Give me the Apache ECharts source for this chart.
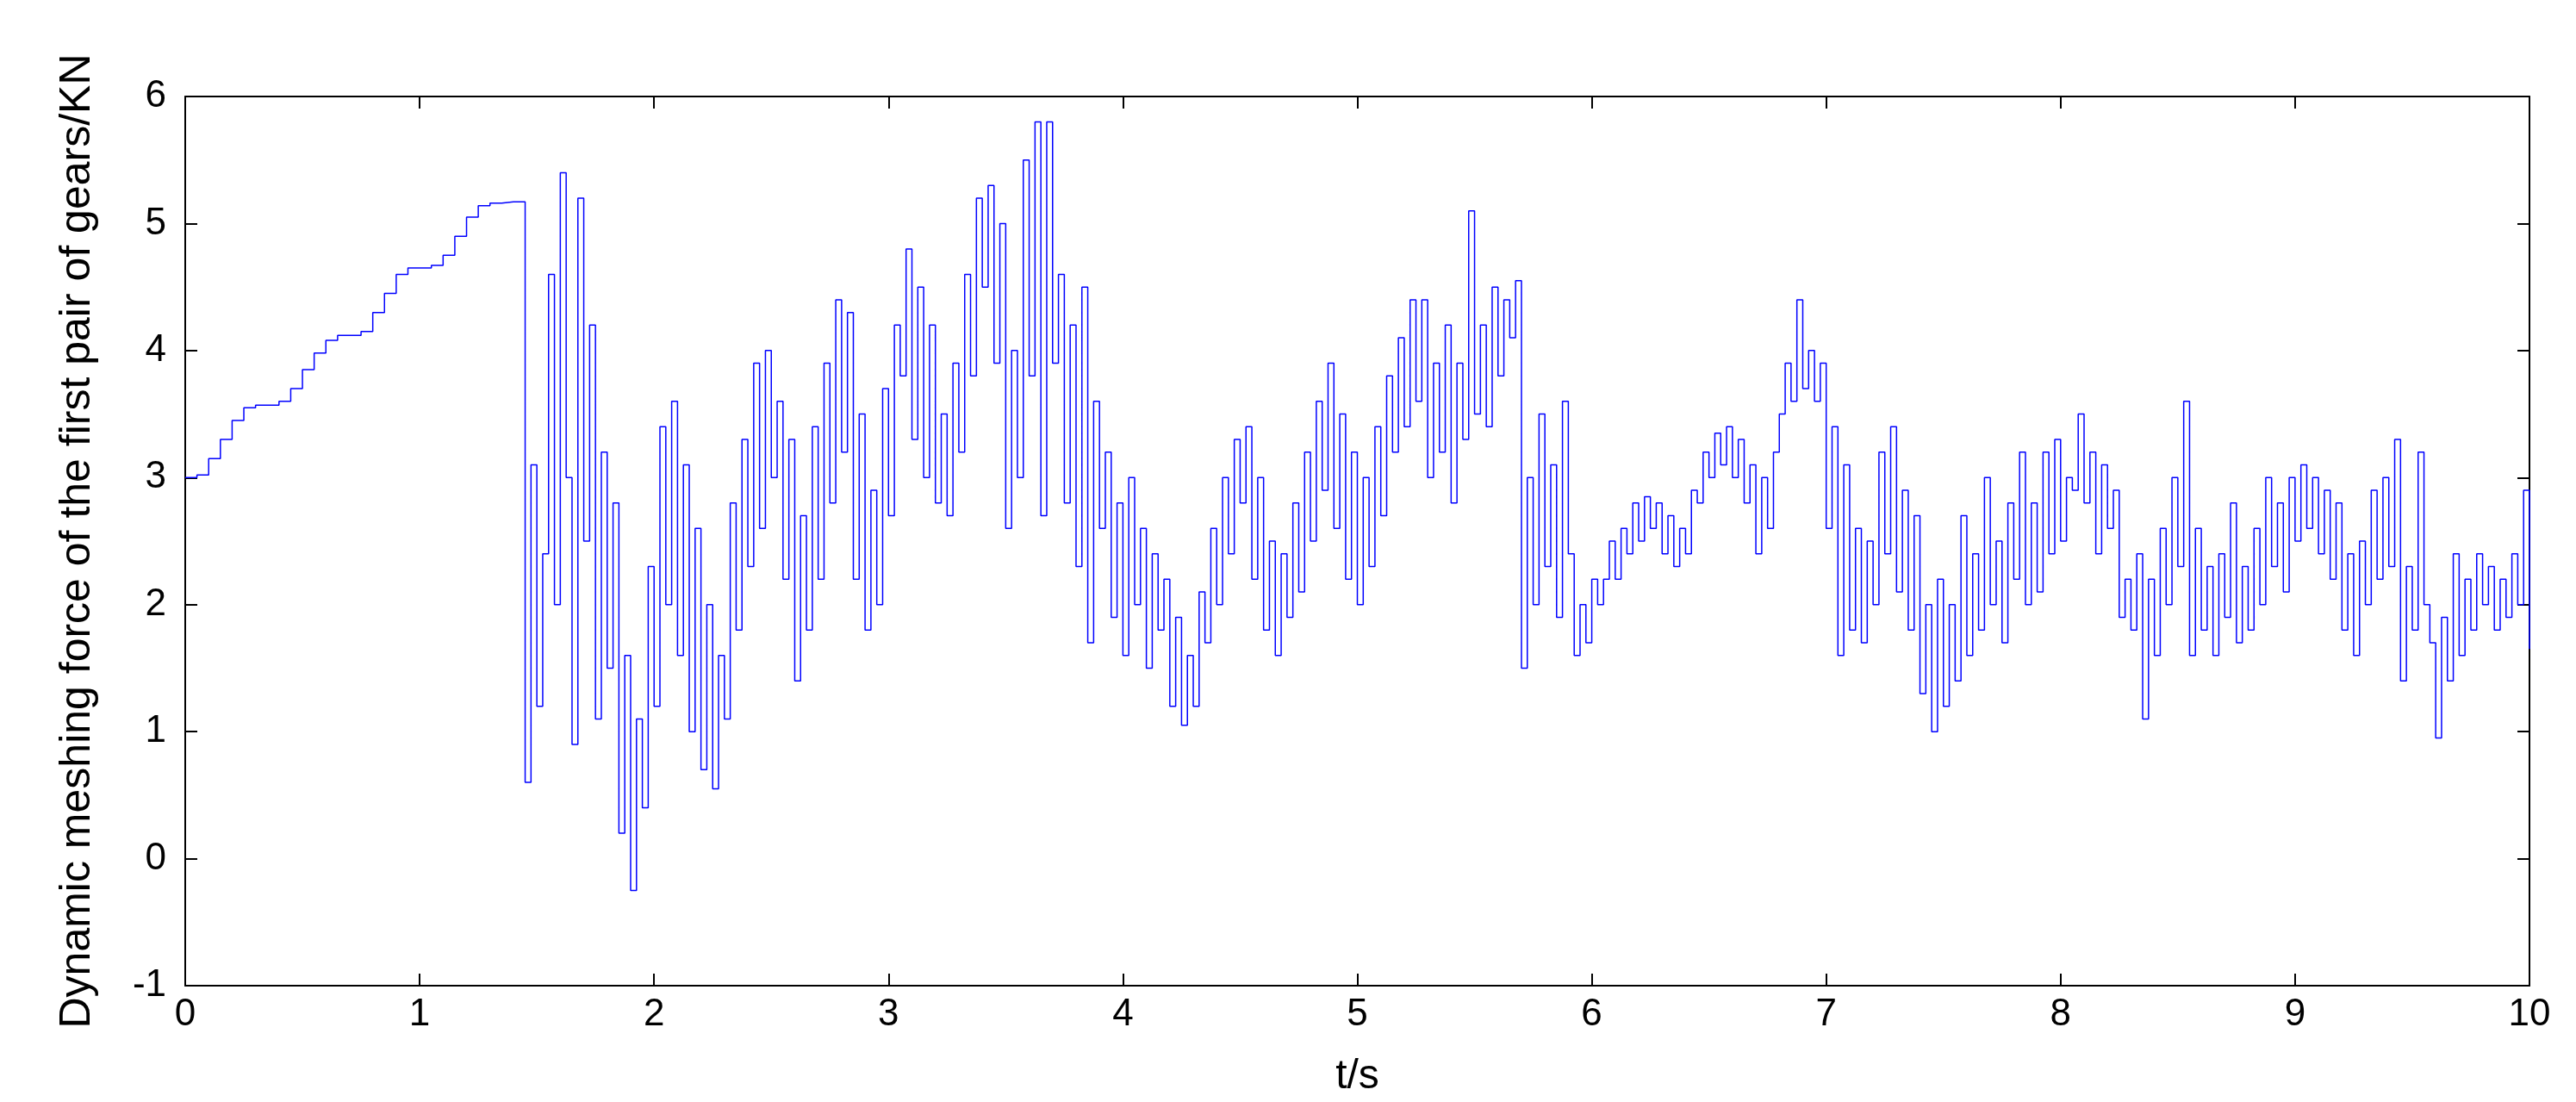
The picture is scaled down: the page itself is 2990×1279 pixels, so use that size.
<!DOCTYPE html>
<html><head><meta charset="utf-8">
<script src="https://cdn.jsdelivr.net/npm/echarts@6/dist/echarts.min.js"></script>
<style>html,body{margin:0;padding:0;background:#fff}#c{width:2990px;height:1279px}</style>
</head><body><div id="c"></div>
<script>
// smooth start-up part, t = 0 .. 1.45 step 0.05
const smoothStart = 0, smoothStep = 0.05;
const smoothValues = [3.0,3.02,3.15,3.3,3.45,3.55,3.57,3.57,3.6,3.7,3.85,3.98,4.08,4.12,4.12,4.15,4.3,4.45,4.6,4.65,4.65,4.67,4.75,4.9,5.05,5.14,5.16,5.17,5.17,5.17];
// oscillating part, t = 1.45 .. 10 step 0.025
const oscStart = 1.45, oscStep = 0.025;
const oscValues = [
0.6,3.1,1.2,2.4,4.6,2.0,5.4,3.0,
0.9,5.2,2.5,4.2,1.1,3.2,1.5,2.8,
0.2,1.6,-0.25,1.1,0.4,2.3,1.2,3.4,
2.0,3.6,1.6,3.1,1.0,2.6,0.7,2.0,
0.55,1.6,1.1,2.8,1.8,3.3,2.3,3.9,
2.6,4.0,3.0,3.6,2.2,3.3,1.4,2.7,
1.8,3.4,2.2,3.9,2.8,4.4,3.2,4.3,
2.2,3.5,1.8,2.9,2.0,3.7,2.7,4.2,
3.8,4.8,3.3,4.5,3.0,4.2,2.8,3.5,
2.7,3.9,3.2,4.6,3.8,5.2,4.5,5.3,
3.9,5.0,2.6,4.0,3.0,5.5,3.8,5.8,
2.7,5.8,3.9,4.6,2.8,4.2,2.3,4.5,
1.7,3.6,2.6,3.2,1.9,2.8,1.6,3.0,
2.0,2.6,1.5,2.4,1.8,2.2,1.2,1.9,
1.05,1.6,1.2,2.1,1.7,2.6,2.0,3.0,
2.4,3.3,2.8,3.4,2.2,3.0,1.8,2.5,
1.6,2.4,1.9,2.8,2.1,3.2,2.5,3.6,
2.9,3.9,2.6,3.5,2.2,3.2,2.0,3.0,
2.3,3.4,2.7,3.8,3.2,4.1,3.4,4.4,
3.6,4.4,3.0,3.9,3.2,4.2,2.8,3.9,
3.3,5.1,3.5,4.2,3.4,4.5,3.8,4.4,
4.1,4.55,1.5,3.0,2.0,3.5,2.3,3.1,
1.9,3.6,2.4,1.6,2.0,1.7,2.2,2.0,
2.2,2.5,2.2,2.6,2.4,2.8,2.5,2.85,
2.6,2.8,2.4,2.7,2.3,2.6,2.4,2.9,
2.8,3.2,3.0,3.35,3.1,3.4,3.0,3.3,
2.8,3.1,2.4,3.0,2.6,3.2,3.5,3.9,
3.6,4.4,3.7,4.0,3.6,3.9,2.6,3.4,
1.6,3.1,1.8,2.6,1.7,2.5,2.0,3.2,
2.4,3.4,2.1,2.9,1.8,2.7,1.3,2.0,
1.0,2.2,1.2,2.0,1.4,2.7,1.6,2.4,
1.8,3.0,2.0,2.5,1.7,2.8,2.2,3.2,
2.0,2.8,2.1,3.2,2.4,3.3,2.5,3.0,
2.9,3.5,2.8,3.2,2.4,3.1,2.6,2.9,
1.9,2.2,1.8,2.4,1.1,2.2,1.6,2.6,
2.0,3.0,2.3,3.6,1.6,2.6,1.8,2.3,
1.6,2.4,1.9,2.8,1.7,2.3,1.8,2.6,
2.0,3.0,2.3,2.8,2.1,3.0,2.5,3.1,
2.6,3.0,2.4,2.9,2.2,2.8,1.8,2.4,
1.6,2.5,2.0,2.9,2.2,3.0,2.3,3.3,
1.4,2.3,1.8,3.2,2.0,1.7,0.95,1.9,
1.4,2.4,1.6,2.2,1.8,2.4,2.0,2.3,
1.8,2.2,1.9,2.4,2.0,2.9,1.65
];
const xTicks = [0,1,2,3,4,5,6,7,8,9,10];
const yTicks = [-1,0,1,2,3,4,5,6];
const xName = 't/s';
const yName = 'Dynamic meshing force of the first pair of gears/KN';

const data = [];
smoothValues.forEach((v,i)=>data.push([+(smoothStart+i*smoothStep).toFixed(4), v]));
oscValues.forEach((v,i)=>data.push([+(oscStart+i*oscStep).toFixed(4), v]));

const font = 'Liberation Sans, Arial, sans-serif';
const lab = {color:'#000', fontSize:44, fontFamily:font};
const line = {show:true, onZero:false, lineStyle:{color:'#000', width:2}};
const tick = {inside:true, length:14, lineStyle:{color:'#000',width:2}};
const chart = echarts.init(document.getElementById('c'));
chart.setOption({
  animation:false,
  backgroundColor:'#fff',
  grid:{left:215, right:54, top:112, bottom:122},
  xAxis:[
    {type:'value', min:xTicks[0], max:xTicks[xTicks.length-1], interval:1, axisLine:line,
     axisTick:tick, splitLine:{show:false},
     axisLabel:Object.assign({margin:12}, lab), name:xName, nameLocation:'middle', nameGap:82,
     nameTextStyle:{color:'#000', fontSize:48, fontFamily:font}},
    {type:'value', position:'top', min:xTicks[0], max:xTicks[xTicks.length-1], interval:1, axisLine:line,
     axisTick:tick, axisLabel:{show:false}, splitLine:{show:false}}
  ],
  yAxis:[
    {type:'value', min:yTicks[0], max:yTicks[yTicks.length-1], interval:1, axisLine:line,
     axisTick:tick, splitLine:{show:false},
     axisLabel:Object.assign({margin:22}, lab), name:yName, nameLocation:'middle', nameGap:100,
     nameTextStyle:{color:'#000', fontSize:50, fontFamily:font}},
    {type:'value', position:'right', min:yTicks[0], max:yTicks[yTicks.length-1], interval:1, axisLine:line,
     axisTick:tick, axisLabel:{show:false}, splitLine:{show:false}}
  ],
  series:[{type:'line', data:data, step:'end', showSymbol:false, sampling:null,
    lineStyle:{color:'#0000ff', width:1.5}, itemStyle:{color:'#0000ff'}}]
});
</script></body></html>
